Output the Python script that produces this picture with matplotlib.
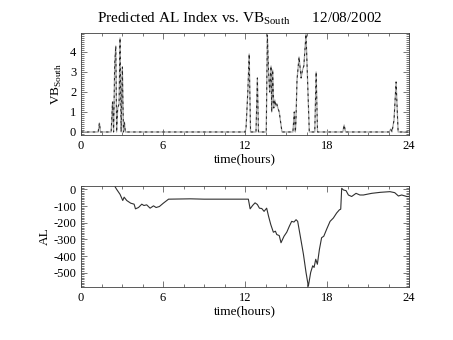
import matplotlib
matplotlib.use("Agg")
import matplotlib.pyplot as plt
from matplotlib.ticker import MultipleLocator, AutoMinorLocator

plt.rcParams['font.family'] = ['Liberation Serif', 'DejaVu Serif']
plt.rcParams['mathtext.fontset'] = 'custom'
plt.rcParams['mathtext.rm'] = 'Liberation Serif'
plt.rcParams['axes.unicode_minus'] = False

# VB south (hand)
vb_t = [0.0, 1.25, 1.34, 1.42, 2.2, 2.3, 2.38, 2.46, 2.54, 2.6, 2.68, 2.78, 2.85,
        2.93, 3.02, 3.1, 3.17, 3.24, 12.0, 12.07, 12.2, 12.3, 12.4, 12.8, 12.9, 12.98,
        13.55, 13.63, 13.72, 13.8, 13.9, 13.95, 14.02, 14.1, 14.18, 14.25, 14.32, 14.4,
        14.5, 14.7, 15.5, 15.6, 15.68, 15.72, 15.8, 15.95, 16.1, 16.2, 16.3, 16.46, 16.7,
        17.1, 17.2, 17.3, 19.15, 19.25, 19.35, 22.55, 22.66, 22.75, 22.9, 23.05, 23.2, 24.0]
vb_val = [0.0, 0.0, 0.45, 0.0, 0.0, 1.5, 0.0, 3.4, 4.3, 0.0, 1.2, 1.4, 4.7,
          0.0, 3.25, 0.0, 0.5, 0.0, 0.0, 0.2, 2.0, 3.9, 0.0, 0.0, 2.7, 0.0,
          0.0, 4.85, 3.0, 2.0, 3.3, 1.0, 3.1, 1.2, 1.6, 1.3, 1.4, 1.2,
          1.0, 0.0, 0.0, 1.0, 0.0, 0.5, 2.6, 3.75, 2.7, 3.1, 3.3, 4.9, 0.0,
          0.0, 3.0, 0.0, 0.0, 0.35, 0.0, 0.0, 0.15, 0.0, 0.6, 2.5, 0.0, 0.0]

# AL index
al_t = [2.49, 2.6, 2.85, 3.05, 3.15, 3.34, 3.63, 3.88, 3.98, 4.2, 4.44, 4.6, 4.8,
        5.05, 5.3, 5.49, 5.73, 6.02, 6.4, 7.2, 8.0, 9.0, 10.0, 11.0, 12.24, 12.37,
        12.55, 12.73, 12.9, 13.05, 13.22, 13.39, 13.58, 13.72, 13.88, 14.07, 14.22,
        14.32, 14.5, 14.63, 14.85, 15.05, 15.24, 15.41, 15.58, 15.73, 15.85, 16.02,
        16.27, 16.46, 16.63, 16.8, 16.95, 17.05, 17.17, 17.29, 17.44, 17.6, 17.76,
        17.98, 18.22, 18.46, 18.7, 18.9, 19.0, 19.07, 19.2, 19.39, 19.56, 19.8, 20.12,
        20.4, 20.66, 20.9, 21.27, 21.9, 22.6, 22.95, 23.22, 23.46, 23.83, 24.0]
al_val = [15, 0, -30, -67, -47, -67, -83, -89, -117, -109, -89, -97, -93,
          -113, -99, -109, -103, -83, -59, -58, -57, -59, -59, -59, -59, -117,
          -97, -81, -91, -113, -115, -132, -113, -162, -211, -257, -251,
          -271, -277, -320, -281, -257, -221, -192, -196, -182, -192, -271,
          -389, -498, -581, -498, -458, -468, -419, -449, -360, -290, -281,
          -237, -192, -172, -142, -123, -119, 6, -4, -8, -34, -43, -24,
          -34, -34, -30, -24, -18, -14, -20, -40, -34, -43, -43]

fig = plt.figure(figsize=(4.53, 3.4), dpi=100)
ax1 = fig.add_axes([0.179, 0.603, 0.724, 0.3])
ax2 = fig.add_axes([0.179, 0.156, 0.724, 0.297])

ax1.plot(vb_t, vb_val, color='#a8a8a8', lw=0.9)
ax1.plot(vb_t, vb_val, color='#202020', lw=0.7, dashes=(2.5, 3.5))
ax1.set_ylim(-0.15, 4.95)
ax1.yaxis.set_major_locator(MultipleLocator(1))
ax1.set_ylabel('VB$_{\\mathrm{South}}$', fontsize=9.5, labelpad=4)

ax2.plot(al_t, al_val, color='#303030', lw=0.8)
ax2.set_ylim(-585, 20)
ax2.yaxis.set_major_locator(MultipleLocator(100))
ax2.set_ylabel('AL', fontsize=9.5, labelpad=2)

for ax in (ax1, ax2):
    ax.set_xlim(0, 24)
    ax.xaxis.set_major_locator(MultipleLocator(6))
    ax.xaxis.set_minor_locator(MultipleLocator(1.5))
    ax.yaxis.set_minor_locator(AutoMinorLocator(10))
    ax.tick_params(which='both', direction='in', top=True, right=True,
                   labelsize=9, width=0.5, color='#404040')
    ax.tick_params(which='major', length=4)
    ax.tick_params(which='minor', length=2)
    ax.set_xlabel('time(hours)', fontsize=9.5, labelpad=1)
    for s in ax.spines.values():
        s.set_linewidth(0.6)
        s.set_color('#404040')

fig.text(0.53, 0.935, 'Predicted AL Index vs. VB$_{\\mathrm{South}}$      12/08/2002',
         ha='center', fontsize=11)

fig.savefig('out.png', dpi=100)
